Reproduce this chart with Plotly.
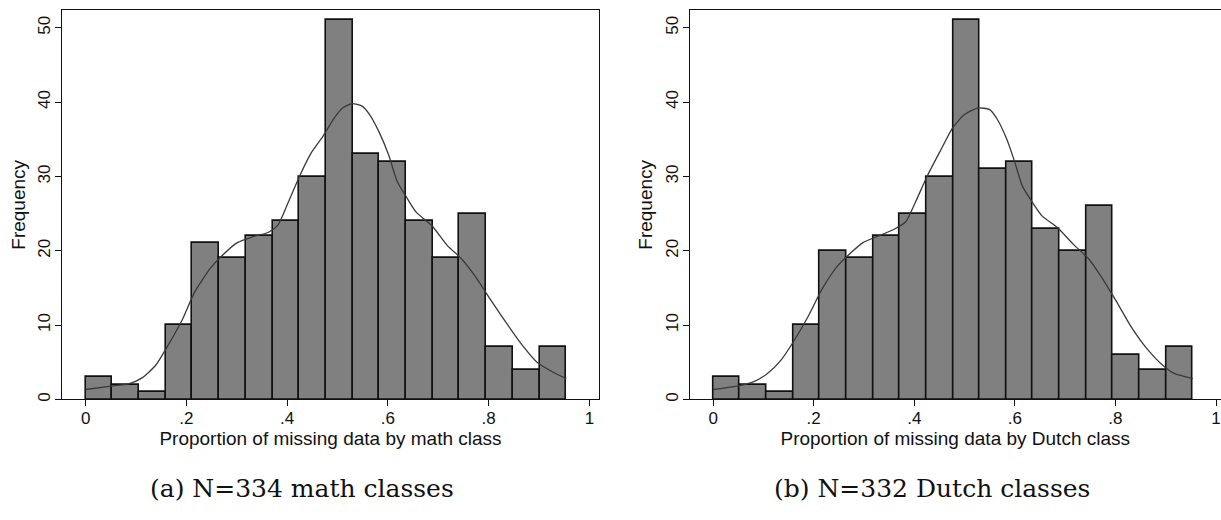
import numpy as np
import plotly.graph_objects as go

# ---- data ----
bin_width = 0.053
n_bins = 18
math_counts = [3, 2, 1, 10, 21, 19, 22, 24, 30, 51, 33, 32, 24, 19, 25, 7, 4, 7]
dutch_counts = [3, 2, 1, 10, 20, 19, 22, 25, 30, 51, 31, 32, 23, 20, 26, 6, 4, 7]

math_kde_x = [0, 0.054, 0.085, 0.112, 0.139, 0.162, 0.193, 0.216, 0.247, 0.27, 0.301, 0.332, 0.363,
              0.382, 0.402, 0.425, 0.448, 0.471, 0.494, 0.51, 0.529, 0.548, 0.564, 0.583, 0.602,
              0.618, 0.637, 0.656, 0.687, 0.718, 0.745, 0.772, 0.803, 0.834, 0.869, 0.896, 0.927, 0.954]
math_kde_y = [1.34, 1.83, 2.1, 2.9, 4.6, 7.1, 10.9, 14.4, 17.6, 19.3, 21.1, 21.9, 22.5,
              23.5, 26.5, 30.1, 33.2, 35.4, 37.9, 39.2, 39.8, 39.5, 38.3, 35.9, 32.8,
              29.4, 27.2, 25.2, 23.4, 20.7, 19.0, 16.7, 13.5, 10.4, 7.1, 5.0, 3.7, 2.8]

dutch_kde_x = [0, 0.05, 0.081, 0.108, 0.135, 0.159, 0.19, 0.217, 0.248, 0.275, 0.298, 0.329, 0.36,
               0.383, 0.402, 0.426, 0.453, 0.476, 0.499, 0.526, 0.55, 0.565, 0.584, 0.6, 0.615,
               0.635, 0.654, 0.685, 0.716, 0.747, 0.77, 0.801, 0.832, 0.863, 0.894, 0.917, 0.954]
dutch_kde_y = [1.34, 1.83, 2.4, 3.5, 5.3, 7.7, 11.3, 14.9, 18.0, 19.8, 21.1, 22.0, 22.9,
               23.9, 26.5, 30.1, 33.6, 36.5, 38.3, 39.2, 39.0, 37.7, 35.0, 31.9, 28.7,
               26.5, 24.7, 23.1, 20.9, 18.9, 16.7, 13.3, 9.7, 6.8, 4.6, 3.5, 2.8]

x_tickvals = [0, 0.2, 0.4, 0.6, 0.8, 1]
x_ticktext = ["0", ".2", ".4", ".6", ".8", "1"]
y_tickvals = [0, 10, 20, 30, 40, 50]
y_ticktext = ["0", "10", "20", "30", "40", "50"]

x_titles = ["Proportion of missing data by math class", "Proportion of missing data by Dutch class"]
y_title = "Frequency"
captions = ["(a) N=334 math classes", "(b) N=332 Dutch classes"]

# ---- figure ----
W, H = 1221, 520
bin_centers = [bin_width * (i + 0.5) for i in range(n_bins)]

fig = go.Figure()
for k, (counts, kx, ky) in enumerate([(math_counts, math_kde_x, math_kde_y),
                                      (dutch_counts, dutch_kde_x, dutch_kde_y)]):
    xa = "x" if k == 0 else "x2"
    ya = "y" if k == 0 else "y2"
    fig.add_trace(go.Bar(x=bin_centers, y=counts, width=bin_width,
                         marker=dict(color="#808080", line=dict(color="#111111", width=1.6)),
                         xaxis=xa, yaxis=ya, showlegend=False, hoverinfo="skip"))
    fig.add_trace(go.Scatter(x=kx, y=ky, mode="lines",
                             line=dict(color="#3a3a3a", width=1.3, shape="spline", smoothing=0.6),
                             xaxis=xa, yaxis=ya, showlegend=False, hoverinfo="skip"))

font_sans = "Liberation Sans, Arial, sans-serif"
ydom = [1 - 401 / H, 1 - 10 / H]
xdoms = [[62 / W, 599 / W], [689.5 / W, 1.0]]
xranges = [[-0.047, 1.019], [-0.047, (W - 713) / 503]]

common_x = dict(tickvals=x_tickvals, ticktext=x_ticktext, ticks="outside", ticklen=6,
                tickwidth=1, tickcolor="#111", showline=True, linecolor="#111", linewidth=1,
                showgrid=False, zeroline=False, mirror=True, ticklabelstandoff=-3,
                tickfont=dict(family=font_sans, size=17, color="#111"))
common_y = dict(tickvals=y_tickvals, ticktext=y_ticktext, ticks="outside", ticklen=6,
                tickwidth=1, tickcolor="#111", showline=True, linecolor="#111", linewidth=1,
                showgrid=False, zeroline=False, range=[0, 52.4], domain=ydom, tickangle=-90,
                ticklabelstandoff=-2,
                tickfont=dict(family=font_sans, size=17, color="#111"))

fig.update_layout(
    width=W, height=H, margin=dict(l=0, r=0, t=0, b=0),
    plot_bgcolor="white", paper_bgcolor="white", bargap=0,
    xaxis=dict(common_x, domain=xdoms[0], range=xranges[0], anchor="y",
               title=dict(text=x_titles[0], font=dict(family=font_sans, size=19, color="#111"),
                          standoff=0)),
    xaxis2=dict(common_x, domain=xdoms[1], range=xranges[1], anchor="y2",
                title=dict(text=x_titles[1], font=dict(family=font_sans, size=19, color="#111"),
                           standoff=0)),
    yaxis=dict(common_y, anchor="x", mirror=True),
    yaxis2=dict(common_y, anchor="x2", mirror=False),
)

for px in [19, 646]:
    fig.add_annotation(x=px / W, y=(ydom[0] + ydom[1]) / 2, xref="paper", yref="paper",
                       text=y_title, textangle=-90, showarrow=False,
                       xanchor="center", yanchor="middle",
                       font=dict(family=font_sans, size=19, color="#111"))

cap_x = [302 / W, 932 / W]
for cx, txt in zip(cap_x, captions):
    fig.add_annotation(x=cx, y=1 - 490 / H, xref="paper", yref="paper", text=txt,
                       showarrow=False, xanchor="center", yanchor="middle",
                       font=dict(family="DejaVu Serif, serif", size=25, color="#111"))

fig.write_html("out.html", config={"displayModeBar": False},
               post_script="document.body.style.margin='0';document.body.style.overflow='hidden';")
